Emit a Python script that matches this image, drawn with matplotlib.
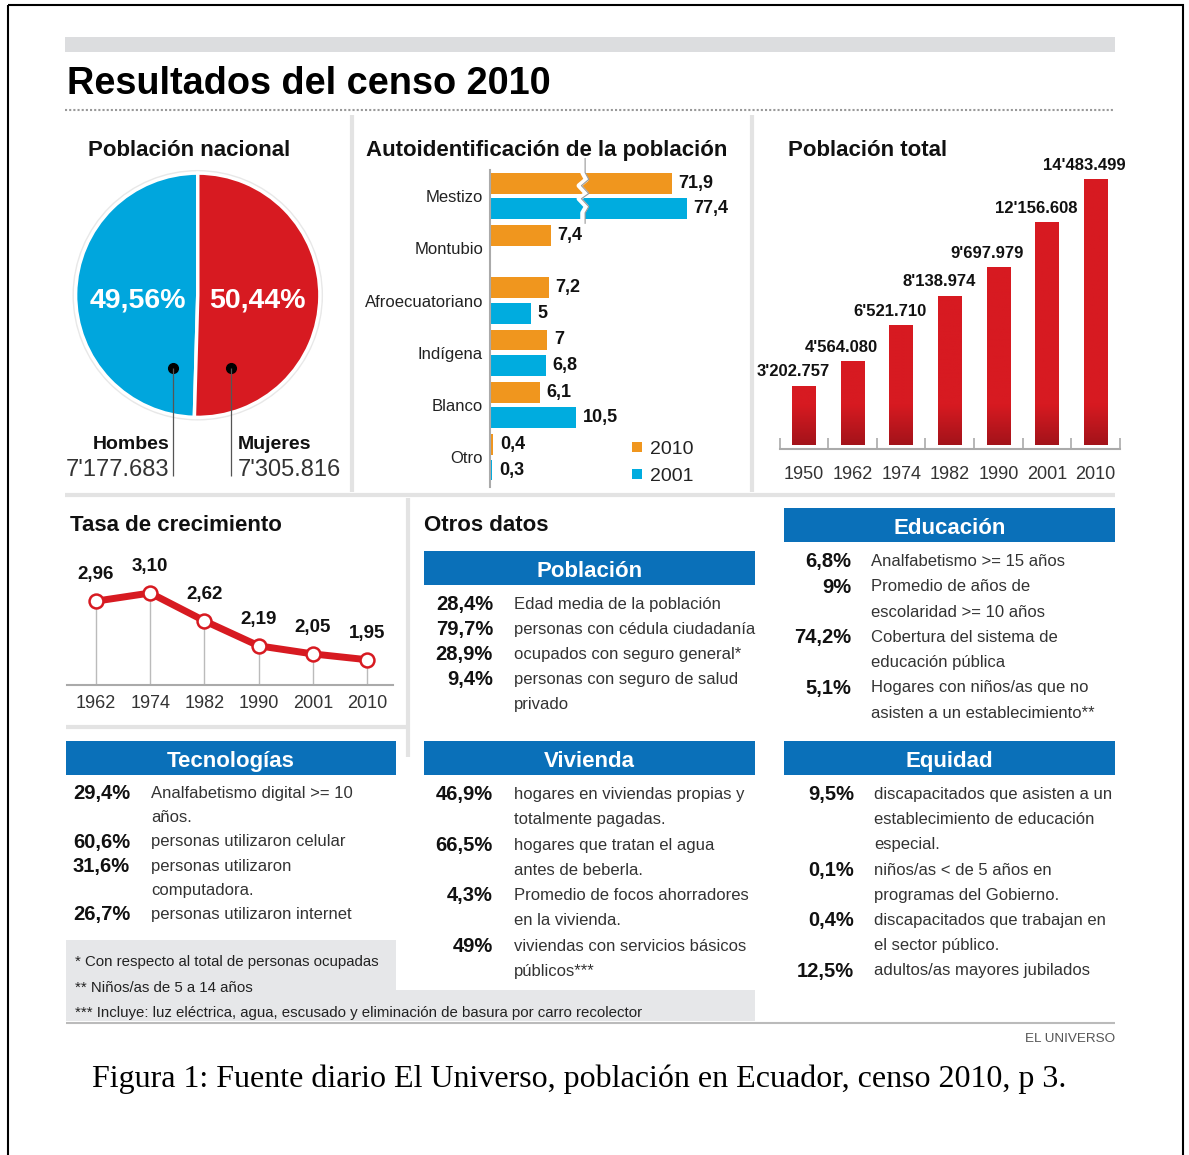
import matplotlib
matplotlib.use("Agg")
import matplotlib.pyplot as plt
from matplotlib.patches import Rectangle, Circle, Polygon
from matplotlib.colors import LinearSegmentedColormap
import numpy as np

W, H = 1189, 1155

# datos del censo
sexo = ['Hombes', 'Mujeres']
sexo_pct = [49.56, 50.44]
sexo_total = [7177683, 7305816]

etnias = ['Mestizo', 'Montubio', 'Afroecuatoriano', 'Indígena', 'Blanco', 'Otro']
etnia_2010 = [71.9, 7.4, 7.2, 7.0, 6.1, 0.4]
etnia_2001 = [77.4, np.nan, 5.0, 6.8, 10.5, 0.3]

censos = ['1950', '1962', '1974', '1982', '1990', '2001', '2010']
poblacion = [3202757, 4564080, 6521710, 8138974, 9697979, 12156608, 14483499]

tasa_anios = ['1962', '1974', '1982', '1990', '2001', '2010']
tasa = [2.96, 3.10, 2.62, 2.19, 2.05, 1.95]

datos_poblacion = [('28,4%', ['Edad media de la población']),
                   ('79,7%', ['personas con cédula ciudadanía']),
                   ('28,9%', ['ocupados con seguro general*']),
                   ('9,4%', ['personas con seguro de salud', 'privado'])]
datos_educacion = [('6,8%', ['Analfabetismo >= 15 años']),
                   ('9%', ['Promedio de años de', 'escolaridad >= 10 años']),
                   ('74,2%', ['Cobertura del sistema de', 'educación pública']),
                   ('5,1%', ['Hogares con niños/as que no', 'asisten a un establecimiento**'])]
datos_tecnologia = [('29,4%', ['Analfabetismo digital >= 10', 'años.']),
                    ('60,6%', ['personas utilizaron celular']),
                    ('31,6%', ['personas utilizaron', 'computadora.']),
                    ('26,7%', ['personas utilizaron internet'])]
datos_vivienda = [('46,9%', ['hogares en viviendas propias y', 'totalmente pagadas.']),
                  ('66,5%', ['hogares que tratan el agua', 'antes de beberla.']),
                  ('4,3%', ['Promedio de focos ahorradores', 'en la vivienda.']),
                  ('49%', ['viviendas con servicios básicos', 'públicos***'])]
datos_equidad = [('9,5%', ['discapacitados que asisten a un', 'establecimiento de educación', 'especial.']),
                 ('0,1%', ['niños/as < de 5 años en', 'programas del Gobierno.']),
                 ('0,4%', ['discapacitados que trabajan en', 'el sector público.']),
                 ('12,5%', ['adultos/as mayores jubilados'])]
notas = ['* Con respecto al total de personas ocupadas',
         '** Niños/as de 5 a 14 años',
         '*** Incluye: luz eléctrica, agua, escusado y eliminación de basura por carro recolector']

AZUL = '#00a6dd'
ROJO = '#d71a21'
NARANJA = '#f0961e'
AZUL_BAR = '#00acdf'
AZUL_CAJA = '#0a70b9'
GRIS = '#e3e3e3'
SANS = ['Liberation Sans', 'DejaVu Sans']
plt.rcParams['font.family'] = SANS


def miles(n):
    s = f"{n:,}".split(',')
    return s[0] + "'" + s[1] + "." + s[2]


def coma(v, d=None):
    s = f"{v:.{d}f}" if d is not None else f"{v:g}"
    return s.replace('.', ',')


def tramo(v):
    # eje cortado para Mestizo
    return v if v < 20 else 22.2 + (v - 71.9) * 0.33


fig = plt.figure(figsize=(W / 100, H / 100), dpi=100)


def caja(x0, y0, x1, y1):
    return fig.add_axes([x0 / W, 1 - y1 / H, (x1 - x0) / W, (y1 - y0) / H])


# ---- pastel ----
pa = caja(69.5, 167, 326, 423.5)
pa.add_patch(Circle((0, 0), 1.02, color='#e8e8e8', zorder=0))
pa.pie(sexo_pct, colors=[AZUL, ROJO], startangle=90, counterclock=True,
       wedgeprops=dict(edgecolor='white', linewidth=2.5))
pa.set_xlim(-1.05, 1.05)
pa.set_ylim(-1.05, 1.05)
pa.set_aspect('equal')
pa.axis('off')

# ---- autoidentificacion ----
ba = caja(490, 170, 752, 487)
pos = np.arange(len(etnias))
v10 = [tramo(v) for v in etnia_2010]
ba.barh(pos - 0.245, v10, height=0.40, color=NARANJA)
m01 = ~np.isnan(etnia_2001)
v01 = [tramo(v) for v in np.array(etnia_2001)[m01]]
ba.barh(pos[m01] + 0.245, v01, height=0.40, color=AZUL_BAR)
for i, v in enumerate(etnia_2010):
    ba.text(tramo(v) + 0.8, i - 0.245, coma(v), va='center', ha='left',
            fontsize=13, fontweight='bold', color='#111')
for i, v in enumerate(etnia_2001):
    if not np.isnan(v):
        ba.text(tramo(v) + 0.8, i + 0.245, coma(v), va='center', ha='left',
                fontsize=13, fontweight='bold', color='#111')
zy = np.array([-0.72, -0.45, -0.32, -0.2, -0.05, 0.05, 0.2, 0.32, 0.52])
zx = 11.3 + np.array([0, 0, 0.45, -0.45, 0.45, -0.45, 0.45, 0, 0])
ba.plot(zx, zy, color='white', lw=3.5, clip_on=False, zorder=3)
ba.plot(zx + 0.3, zy, color='#999', lw=0.8, clip_on=False, zorder=3)
ba.set_xlim(0, 262 / 8.2)
ba.set_ylim(5.57, -0.5)
ba.set_yticks(pos)
ba.set_yticklabels(etnias, fontsize=12, color='#222')
ba.tick_params(axis='y', length=0, pad=5)
ba.set_xticks([])
for s in ['top', 'right', 'bottom']:
    ba.spines[s].set_visible(False)
ba.spines['left'].set_color('#aaa')
ba.spines['left'].set_linewidth(1.5)

# ---- poblacion total ----
pt = caja(779.6, 160, 1120, 449)
xc = np.arange(len(censos))
barras = pt.bar(xc, poblacion, width=0.49, color=ROJO)
grad = LinearSegmentedColormap.from_list('g', ['#a3131a', ROJO])
for b, v in zip(barras, poblacion):
    yy = np.linspace(0, v, 200)
    g = np.clip(yy / 2.2e6, 0, 1).reshape(-1, 1)
    pt.imshow(g, extent=[b.get_x(), b.get_x() + b.get_width(), 0, v],
              origin='lower', aspect='auto', cmap=grad, vmin=0, vmax=1, zorder=2)
    pt.annotate(miles(v), (b.get_x() + b.get_width() / 2, v), xytext=(-8, 5),
                textcoords='offset points', ha='center', va='bottom',
                fontsize=12, fontweight='bold', color='#111')
pt.set_xlim(-0.5, 6.5)
pt.set_ylim(-0.2186e6, 15.57e6)
pt.set_xticks(xc)
pt.set_xticklabels(censos, fontsize=13, color='#333')
pt.set_xticks(np.arange(-0.5, 7), minor=True)
pt.tick_params(axis='x', which='major', length=0, pad=12)
pt.tick_params(axis='x', which='minor', direction='in', length=8, color='#aaa', width=1.2)
pt.set_yticks([])
for s in ['top', 'right', 'left']:
    pt.spines[s].set_visible(False)
pt.spines['bottom'].set_color('#aaa')
pt.spines['bottom'].set_linewidth(1.5)

# ---- tasa de crecimiento ----
ta = caja(67, 540, 393, 685)
xt = np.arange(len(tasa_anios))
ta.vlines(xt, 1.514, tasa, color='#bbb', lw=1, zorder=1)
ta.plot(xt, tasa, color=ROJO, lw=5, marker='o', ms=10, mfc='white', mec=ROJO,
        mew=1.8, zorder=3)
for i, v in enumerate(tasa):
    ta.annotate(coma(v, 2), (i, v), xytext=(0, 19), textcoords='offset points',
                ha='center', va='center', fontsize=13.5, fontweight='bold', color='#111')
ta.set_xlim(-0.535, 5.48)
ta.set_ylim(1.514, 4.014)
ta.set_xticks(xt)
ta.set_xticklabels(tasa_anios, fontsize=13, color='#333')
ta.tick_params(axis='x', length=0, pad=7)
ta.set_yticks([])
for s in ['top', 'right', 'left']:
    ta.spines[s].set_visible(False)
ta.spines['bottom'].set_color('#aaa')
ta.spines['bottom'].set_linewidth(1.5)

# ---- capa base en pixeles ----
ax = fig.add_axes([0, 0, 1, 1], zorder=5)
ax.set_xlim(0, W)
ax.set_ylim(H, 0)
ax.axis('off')


def txt(x, y, s, size, **kw):
    kw.setdefault('color', '#111')
    ax.text(x, y + 0.5 * size, s, fontsize=size, va='baseline', **kw)


def linea(xs, ys, **kw):
    ax.plot(xs, ys, solid_capstyle='butt', **kw)


ax.add_patch(Rectangle((8, 5), 1175, 1200, fill=False, ec='black', lw=1.5))
ax.add_patch(Rectangle((65, 37), 1050, 15, color='#dcdddf', lw=0))
txt(67, 80, 'Resultados del censo 2010', 27.3, fontweight='bold', color='black')
linea([65, 1115], [110, 110], color='#999', lw=1.5, ls=(0, (1, 1)))

linea([352, 352], [115, 492], color=GRIS, lw=3)
linea([752, 752], [115, 492], color=GRIS, lw=3)
linea([65, 1115], [495, 495], color=GRIS, lw=3)
linea([408, 408], [498, 757], color=GRIS, lw=3)
linea([66, 408], [727, 727], color=GRIS, lw=3)

txt(88, 148, 'Población nacional', 16, fontweight='bold')
txt(366, 148, 'Autoidentificación de la población', 16, fontweight='bold')
txt(788, 148, 'Población total', 16, fontweight='bold')
txt(70, 523, 'Tasa de crecimiento', 16, fontweight='bold')
txt(424, 523, 'Otros datos', 16, fontweight='bold')

# etiquetas del pastel
txt(138, 297, coma(sexo_pct[0]) + '%', 20.5, fontweight='bold', color='white', ha='center')
txt(257, 297, coma(sexo_pct[1]) + '%', 20.5, fontweight='bold', color='white', ha='center')
for xd, lado, nom, tot in [(173, 'right', sexo[0], sexo_total[0]),
                           (231, 'left', sexo[1], sexo_total[1])]:
    ax.plot([xd], [368], 'o', color='black', ms=7)
    linea([xd, xd], [368, 476], color='#555', lw=0.9)
    xl = xd - 4 if lado == 'right' else xd + 7
    txt(xl, 442, nom, 14, fontweight='bold', ha=lado)
    txt(xl, 467, miles(tot), 17, ha=lado, color='#333')

# leyenda autoidentificacion
ax.add_patch(Rectangle((632, 442), 10, 10, color=NARANJA, lw=0))
ax.add_patch(Rectangle((632, 469), 10, 10, color=AZUL_BAR, lw=0))
txt(650, 447, '2010', 14, color='#222')
txt(650, 474, '2001', 14, color='#222')


def cabecera(x0, y0, x1, y1, titulo):
    ax.add_patch(Rectangle((x0, y0), x1 - x0, y1 - y0, color=AZUL_CAJA, lw=0))
    txt((x0 + x1) / 2, (y0 + y1) / 2 + 1, titulo, 16, fontweight='bold',
        color='white', ha='center')


def bloque(xp, xt_, y0, filas, dy):
    y = y0
    for pct, lineas in filas:
        txt(xp, y, pct, 14.5, fontweight='bold', ha='right')
        for l in lineas:
            txt(xt_, y, l, 12, color='#333')
            y += dy


cabecera(424, 551, 755, 585, 'Población')
bloque(493, 514, 603, datos_poblacion, 25)
cabecera(784, 508, 1115, 542, 'Educación')
bloque(851, 871, 560, datos_educacion, 25.3)
cabecera(66, 741, 396, 775, 'Tecnologías')
bloque(130, 151, 792, datos_tecnologia, 24.2)
cabecera(424, 741, 755, 775, 'Vivienda')
bloque(493, 514, 793, datos_vivienda, 25.3)
cabecera(784, 741, 1115, 775, 'Equidad')
bloque(854, 874, 793, datos_equidad, 25.2)

# notas
ax.add_patch(Polygon([(66, 940), (396, 940), (396, 990), (755, 990), (755, 1021), (66, 1021)],
                     closed=True, color='#e6e7e9', lw=0))
for i, n in enumerate(notas):
    txt(75, 961 + i * 25.5, n, 10.8, color='#222')
linea([66, 1115], [1023, 1023], color='#bbb', lw=1.5)
txt(1115, 1037, 'EL UNIVERSO', 9.7, color='#555', ha='right')

txt(92, 1075, 'Figura 1: Fuente diario El Universo, población en Ecuador, censo 2010, p 3.',
    23, family=['Liberation Serif', 'DejaVu Serif'], color='black')

fig.savefig('out.png', dpi=100)
plt.close(fig)
